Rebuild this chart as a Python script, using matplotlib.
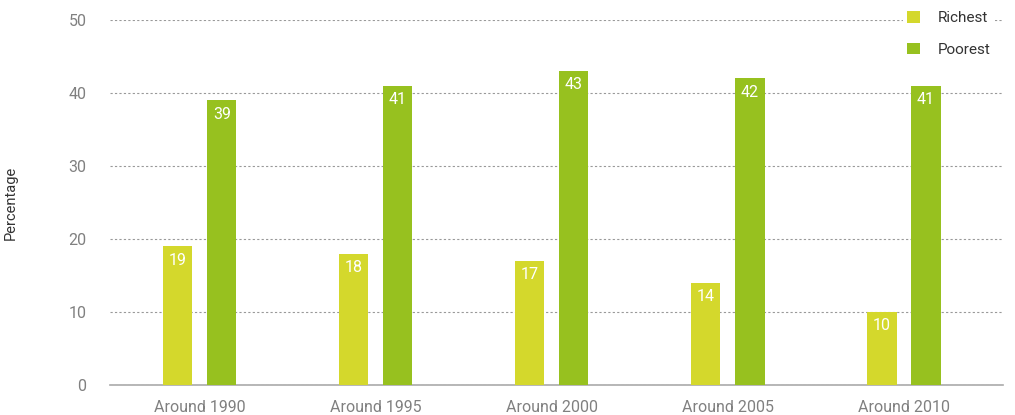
import numpy as np
import matplotlib.pyplot as plt

categories = ['Around 1990', 'Around 1995', 'Around 2000', 'Around 2005', 'Around 2010']
richest = [19, 18, 17, 14, 10]
poorest = [39, 41, 43, 42, 41]

c_rich = '#d4d82c'
c_poor = '#97c11f'
grey = '#808080'

plt.rcParams['font.family'] = ['Roboto', 'DejaVu Sans']

fig = plt.figure(figsize=(10.15, 4.15), dpi=100)
ax = fig.add_axes([110 / 1015, 30 / 415, 893 / 1015, 365 / 415])

x = np.arange(len(categories))
w = 0.165
b1 = ax.bar(x - 0.125, richest, w, color=c_rich, label='Richest', zorder=3)
b2 = ax.bar(x + 0.125, poorest, w, color=c_poor, label='Poorest', zorder=3)

# value labels sit just inside the top of each bar
for bars, vals in ((b1, richest), (b2, poorest)):
    for rect, v in zip(bars, vals):
        ax.text(rect.get_x() + rect.get_width() / 2, v - 1.9, str(v),
                ha='center', va='center', color='white', fontsize=11.5, zorder=4)

ax.set_xlim(-0.511, 4.5625)
ax.set_ylim(0, 50)
ax.set_yticks(range(0, 51, 10))
ax.set_xticks(x)
ax.set_xticklabels(categories)
ax.yaxis.grid(True, linestyle=(0, (2, 2)), color='#999999', linewidth=0.8, zorder=0)
ax.set_axisbelow(True)

for s in ('top', 'right', 'left'):
    ax.spines[s].set_visible(False)
ax.spines['bottom'].set_color('#aaaaaa')
ax.spines['bottom'].set_linewidth(1.2)
ax.tick_params(axis='both', length=0, colors=grey, labelsize=11.5)
ax.tick_params(axis='y', pad=17)
ax.tick_params(axis='x', pad=11)

ax.set_ylabel('Percentage', color='#333333', fontsize=10.5)
ax.yaxis.set_label_coords(-0.103, 0.5)

# white box behind the legend hides the top gridline
leg = ax.legend(loc='upper right', frameon=True, facecolor='white', edgecolor='none',
                framealpha=1.0, fancybox=False, fontsize=11, handlelength=0.8,
                handleheight=0.8, handletextpad=1.2, labelspacing=1.15,
                borderpad=0.3, bbox_to_anchor=(1.0, 1.058))
for t in leg.get_texts():
    t.set_color('#333333')

fig.savefig('out.png', dpi=100)
